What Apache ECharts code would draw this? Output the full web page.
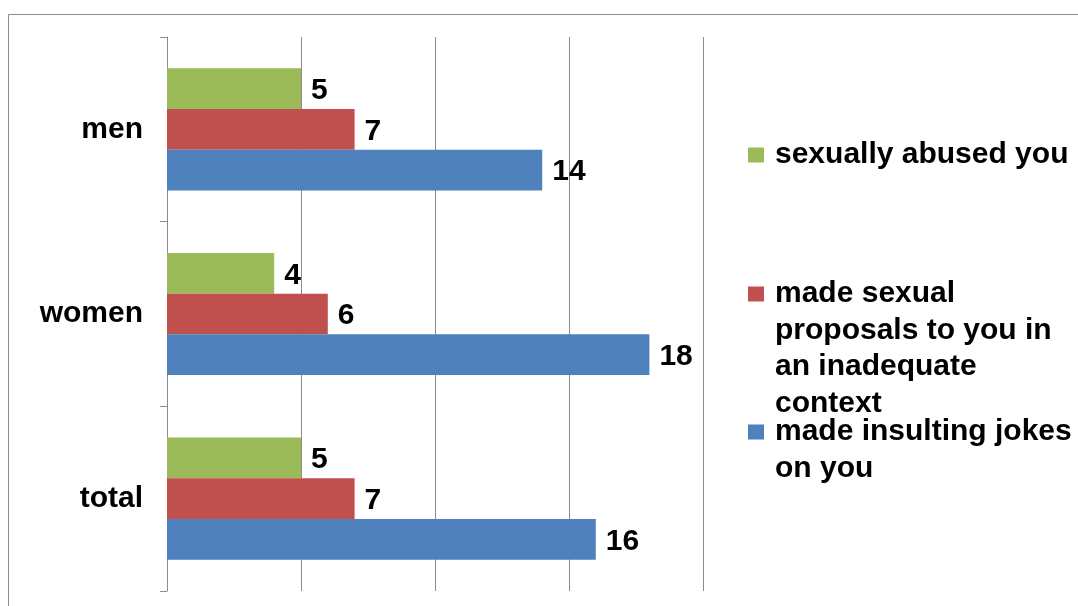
<!DOCTYPE html>
<html>
<head>
<meta charset="utf-8">
<script src="https://cdn.jsdelivr.net/npm/echarts@6/dist/echarts.min.js"></script>
<style>
html,body{margin:0;padding:0;background:#fff;}
#chart{width:1078px;height:606px;}
</style>
</head>
<body>
<div id="chart"></div>
<script>
const categories = ['men', 'women', 'total'];
const seriesNames = ['sexually abused you', 'made sexual proposals to you in an inadequate context', 'made insulting jokes on you'];
const legendLabels = ['sexually abused you', 'made sexual\nproposals to you in\nan inadequate\ncontext', 'made insulting jokes\non you'];
const abused = [5, 4, 5];
const proposals = [7, 6, 7];
const jokes = [14, 18, 16];
const xTicks = [0, 5, 10, 15, 20];

const colors = ['#9BBB59', '#C0504D', '#4F81BD'];
const FONT = '"Liberation Sans", Arial, sans-serif';
const FS = 30;
const LH = 36.5;
const SQ = 15;

const chart = echarts.init(document.getElementById('chart'), null, {renderer: 'canvas'});

function makeSeries(name, data, color) {
  return {
    name: name,
    type: 'bar',
    data: data,
    barWidth: 40.7,
    barGap: '0%',
    itemStyle: {color: color},
    label: {
      show: true,
      position: 'right',
      distance: 10,
      offset: [0, 2],
      color: '#000',
      fontFamily: FONT,
      fontWeight: 'bold',
      fontSize: FS
    }
  };
}

function makeLegend(idx, firstLineCenterY) {
  const label = legendLabels[idx];
  const nLines = label.split('\n').length;
  const H = SQ + (nLines - 1) * LH;
  const W = 22;
  return {
    data: [seriesNames[idx]],
    orient: 'vertical',
    left: 748,
    top: firstLineCenterY - LH / 2,
    padding: 0,
    itemWidth: W,
    itemHeight: H,
    icon: 'path://M0,0L16,0L16,' + SQ + 'L0,' + SQ + 'Z M' + W + ',' + H + 'L' + W + ',' + H,
    formatter: function () { return label; },
    textStyle: {fontFamily: FONT, fontWeight: 'bold', fontSize: FS, color: '#000', lineHeight: LH}
  };
}

option = {
  animation: false,
  color: colors,
  grid: {left: 167, right: 375, top: 37, bottom: 15, containLabel: false},
  xAxis: {
    type: 'value',
    min: xTicks[0],
    max: xTicks[xTicks.length - 1],
    interval: 5,
    axisLine: {show: false},
    axisTick: {show: false},
    axisLabel: {show: false},
    splitLine: {show: true, lineStyle: {color: '#8c8c8c', width: 1}}
  },
  yAxis: {
    type: 'category',
    data: categories,
    inverse: true,
    axisLine: {show: true, lineStyle: {color: '#8c8c8c', width: 1}},
    axisTick: {show: true, length: 7, inside: false, lineStyle: {color: '#8c8c8c'}},
    axisLabel: {
      margin: 24,
      padding: [4, 0, 0, 0],
      color: '#000',
      fontFamily: FONT,
      fontWeight: 'bold',
      fontSize: FS
    }
  },
  legend: [
    makeLegend(0, 155),
    makeLegend(1, 294),
    makeLegend(2, 432)
  ],
  graphic: [
    {
      type: 'rect', silent: true, z: -10,
      shape: {x: 8.5, y: 14.5, width: 1200, height: 700},
      style: {fill: 'none', stroke: '#8c8c8c', lineWidth: 1}
    }
  ],
  series: [
    makeSeries(seriesNames[0], abused, colors[0]),
    makeSeries(seriesNames[1], proposals, colors[1]),
    makeSeries(seriesNames[2], jokes, colors[2])
  ]
};
chart.setOption(option);
</script>
</body>
</html>
